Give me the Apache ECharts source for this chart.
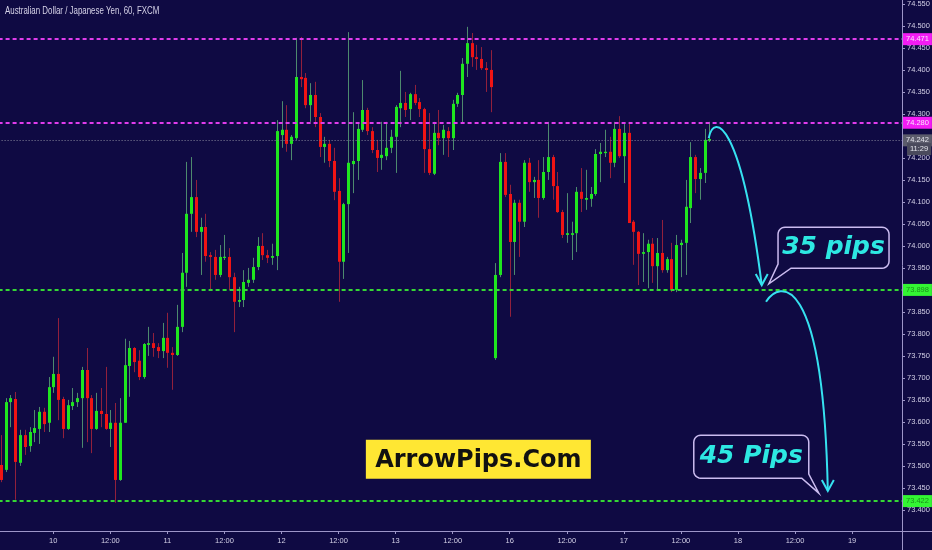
<!DOCTYPE html>
<html><head><meta charset="utf-8">
<script src="https://cdn.jsdelivr.net/npm/echarts@6.0.0/dist/echarts.min.js"></script>
<style>html,body{margin:0;padding:0;background:#0f0a43;}#c{width:932px;height:550px;}</style>
</head><body><div id="c"></div>
<script>
// ---------- data ----------
const chartTitle = 'Australian Dollar / Japanese Yen, 60, FXCM';
const dayNames = ['9', '10', '11', '12', '13', '16', '17', '18', '19'];
const firstHour = 13;          // first candle: day "9", 13:00
const slotCount = 190;         // hourly slots incl. empty future space
const priceTicks = [74.55, 74.50, 74.45, 74.40, 74.35, 74.30, 74.20, 74.15, 74.10, 74.05, 74.00, 73.95,
  73.85, 73.80, 73.75, 73.70, 73.65, 73.60, 73.55, 73.50, 73.45, 73.40];
const resistanceLevels = [74.471, 74.280];
const supportLevels = [73.898, 73.422];
const lastPrice = 74.242;
const countdownText = '11:29';
const countdownPrice = 74.216;
// [open, close, low, high]
const ohlc = [
[73.502,73.468,73.463,73.570],[73.491,73.645,73.486,73.654],[73.645,73.654,73.588,73.661],[73.652,73.509,73.423,73.668],
[73.507,73.570,73.500,73.582],[73.570,73.543,73.525,73.582],[73.545,73.577,73.532,73.588],[73.575,73.586,73.554,73.627],
[73.584,73.623,73.550,73.634],[73.623,73.595,73.577,73.632],[73.598,73.679,73.577,73.702],[73.679,73.709,73.666,73.748],
[73.709,73.650,73.604,73.836],[73.652,73.584,73.563,73.657],[73.584,73.638,73.582,73.650],[73.636,73.645,73.627,73.677],
[73.645,73.654,73.634,73.666],[73.654,73.718,73.541,73.725],[73.718,73.654,73.554,73.768],[73.654,73.584,73.529,73.661],
[73.584,73.625,73.582,73.666],[73.625,73.618,73.588,73.677],[73.618,73.584,73.582,73.725],[73.584,73.598,73.543,73.627],
[73.598,73.468,73.416,73.643],[73.468,73.598,73.466,73.654],[73.598,73.729,73.598,73.789],[73.727,73.768,73.657,73.784],
[73.768,73.736,73.713,73.770],[73.739,73.702,73.695,73.763],[73.702,73.777,73.698,73.779],[73.775,73.779,73.750,73.816],
[73.779,73.768,73.748,73.802],[73.770,73.761,73.745,73.779],[73.761,73.791,73.745,73.825],[73.791,73.757,73.723,73.848],
[73.757,73.752,73.673,73.770],[73.752,73.816,73.750,73.866],[73.816,73.939,73.804,73.984],[73.939,74.073,73.907,74.191],
[74.073,74.111,74.032,74.202],[74.111,74.032,74.020,74.150],[74.032,74.043,73.934,74.064],[74.043,73.977,73.964,74.073],
[73.979,73.975,73.900,73.986],[73.975,73.934,73.923,73.991],[73.934,73.975,73.929,74.002],[73.973,73.975,73.968,74.025],
[73.975,73.929,73.900,73.995],[73.929,73.873,73.804,73.939],[73.873,73.877,73.861,73.907],[73.877,73.918,73.861,73.945],
[73.916,73.923,73.907,73.950],[73.923,73.952,73.916,73.973],[73.952,74.000,73.945,74.020],[74.000,73.979,73.968,74.029],
[73.979,73.973,73.961,73.991],[73.973,73.977,73.957,74.005],[73.977,74.261,73.945,74.286],[74.252,74.264,74.223,74.329],
[74.264,74.232,74.214,74.320],[74.232,74.248,74.195,74.252],[74.245,74.384,74.241,74.473],[74.384,74.379,74.361,74.475],
[74.382,74.320,74.313,74.393],[74.320,74.343,74.282,74.370],[74.343,74.293,74.270,74.373],[74.293,74.225,74.202,74.302],
[74.225,74.232,74.189,74.248],[74.232,74.193,74.179,74.241],[74.193,74.123,74.104,74.223],[74.125,73.964,73.873,74.154],
[73.964,74.095,73.925,74.098],[74.095,74.189,73.984,74.486],[74.186,74.193,74.120,74.304],[74.193,74.266,74.150,74.280],
[74.264,74.309,74.259,74.377],[74.309,74.261,74.252,74.314],[74.261,74.218,74.211,74.270],[74.218,74.200,74.168,74.241],
[74.200,74.207,74.173,74.282],[74.204,74.223,74.195,74.282],[74.223,74.248,74.211,74.264],[74.248,74.316,74.166,74.320],
[74.313,74.325,74.270,74.398],[74.325,74.309,74.293,74.350],[74.311,74.345,74.286,74.348],[74.345,74.325,74.320,74.366],
[74.327,74.311,74.293,74.336],[74.311,74.220,74.166,74.314],[74.220,74.166,74.161,74.302],[74.164,74.257,74.161,74.282],
[74.257,74.245,74.229,74.309],[74.245,74.264,74.207,74.275],[74.261,74.245,74.202,74.270],[74.245,74.323,74.218,74.332],
[74.323,74.343,74.316,74.348],[74.343,74.414,74.280,74.427],[74.414,74.461,74.384,74.498],[74.461,74.429,74.407,74.484],
[74.429,74.425,74.400,74.457],[74.425,74.404,74.400,74.452],[74.404,74.400,74.350,74.418],[74.400,74.361,74.304,74.445],
[73.745,73.934,73.741,73.961],[73.934,74.191,73.929,74.211],[74.191,74.116,74.111,74.211],[74.118,74.009,73.839,74.139],
[74.009,74.098,73.934,74.105],[74.098,74.055,73.975,74.105],[74.055,74.189,74.043,74.195],[74.189,74.145,74.123,74.200],
[74.145,74.150,74.109,74.157],[74.150,74.109,74.064,74.195],[74.109,74.168,74.105,74.202],[74.168,74.202,74.150,74.282],
[74.202,74.136,74.105,74.207],[74.136,74.077,74.075,74.168],[74.077,74.025,74.018,74.082],[74.025,74.029,74.007,74.120],
[74.025,74.029,73.968,74.055],[74.029,74.123,73.986,74.134],[74.123,74.107,74.077,74.177],[74.105,74.109,74.082,74.173],
[74.107,74.118,74.089,74.134],[74.118,74.209,74.114,74.220],[74.209,74.214,74.145,74.234],[74.211,74.214,74.202,74.264],
[74.214,74.189,74.154,74.248],[74.189,74.266,74.179,74.282],[74.266,74.204,74.200,74.295],[74.204,74.257,74.143,74.277],
[74.257,74.052,74.052,74.282],[74.055,74.032,73.957,74.059],[74.032,73.982,73.911,74.034],[73.982,73.986,73.918,74.029],
[73.986,74.005,73.904,74.014],[74.005,73.954,73.916,74.018],[73.954,73.984,73.900,74.018],[73.984,73.945,73.939,74.059],
[73.945,73.970,73.939,73.975],[73.970,73.900,73.895,74.007],[73.900,74.002,73.895,74.025],[74.002,74.007,73.929,74.014],
[74.007,74.089,73.934,74.150],[74.086,74.202,74.052,74.236],[74.202,74.152,74.120,74.207],[74.152,74.166,74.105,74.177],
[74.166,74.241,74.143,74.266],[74.239,74.243,74.236,74.282]
];
// annotation anchors in data space [slot, price]
const arrowOne = [[148.85, 74.245], [149.9, 74.304], [155.6, 74.286], [160.0, 73.911]];
const arrowTwo = [[160.9, 73.873], [163.6, 73.920], [172.9, 73.950], [173.9, 73.443]];
const callout35 = { text: '35 pips', center: [175.1, 73.996], tip: [161.5, 73.914] };
const callout45 = { text: '45 Pips', center: [157.8, 73.521], tip: [172.0, 73.438] };
const brand = { text: 'ArrowPips.Com', center: [100.4, 73.515] };

// ---------- styles ----------
const BG = '#0f0a43', AXIS = '#9d96c8', LBL = '#d2cfe6';
const UP = '#1fe61f', DN = '#f01414', WUP = '#4d8a6e', WDN = '#92203c';
const MAG = '#df3cec', MAGBOX = '#f41cf4', GRN = '#35d835', GRNBOX = '#33f533', CYAN = '#36e2f0';
const SANS = '"Liberation Sans",Arial,sans-serif';

const slotInfo = [];
for (let k = 0; k < slotCount; k++) {
  const t = k + firstHour;
  slotInfo.push({ day: dayNames[Math.floor(t / 24)], hour: t % 24 });
}
const categories = slotInfo.map(s => s.day + ' ' + String(s.hour).padStart(2, '0') + ':00');
const isTick = i => slotInfo[i].hour === 0 || slotInfo[i].hour === 12;

const chart = echarts.init(document.getElementById('c'));

function renderCandle(params, api) {
  const k = api.value(0), o = api.value(1), c = api.value(2), l = api.value(3), h = api.value(4);
  const up = c >= o;
  const pO = api.coord([k, o]), pC = api.coord([k, c]), pL = api.coord([k, l]), pH = api.coord([k, h]);
  const cx = Math.round(pO[0]);
  let top = Math.min(pO[1], pC[1]), bot = Math.max(pO[1], pC[1]);
  if (bot - top < 1.2) { const m = (top + bot) / 2; top = m - 0.6; bot = m + 0.6; }
  return { type: 'group', children: [
    { type: 'line', shape: { x1: cx + 0.5, y1: pH[1], x2: cx + 0.5, y2: pL[1] }, style: { stroke: up ? WUP : WDN, lineWidth: 1 } },
    { type: 'rect', shape: { x: cx - 1, y: top, width: 3, height: bot - top }, style: { fill: up ? UP : DN } }
  ] };
}

function boxLabel(text, bg, fg, dist) {
  return { show: true, position: 'end', distance: dist, formatter: text, backgroundColor: bg, color: fg,
    padding: [2, 3, 2, 3], fontSize: 7.5, lineHeight: 8, fontFamily: SANS };
}

const levelLines = [];
resistanceLevels.forEach(v => levelLines.push({ yAxis: v, lineStyle: { color: MAG, type: [4, 3], width: 2 }, label: boxLabel(v.toFixed(3), MAGBOX, '#fbe4fb', 1) }));
supportLevels.forEach(v => levelLines.push({ yAxis: v, lineStyle: { color: GRN, type: [4, 3], width: 2 }, label: boxLabel(v.toFixed(3), GRNBOX, '#1b8f1b', 1) }));
levelLines.push({ yAxis: lastPrice, lineStyle: { color: '#85859a', type: [1, 2], width: 1 }, label: boxLabel(lastPrice.toFixed(3), '#5c5c6c', '#e6e6ee', 1) });
levelLines.push({ yAxis: countdownPrice, lineStyle: { color: 'rgba(0,0,0,0)', width: 0.1 }, label: boxLabel(countdownText, '#4a4a5c', '#e6e6ee', 5) });

chart.setOption({
  animation: false,
  backgroundColor: BG,
  grid: { left: -1.4, right: 30, top: 0, bottom: 19, containLabel: false, outerBoundsMode: 'none' },
  xAxis: {
    type: 'category', data: categories, boundaryGap: true,
    axisLine: { lineStyle: { color: AXIS, width: 1 } },
    axisTick: { show: true, interval: i => isTick(i), alignWithLabel: true, length: 3, lineStyle: { color: AXIS } },
    axisLabel: { interval: i => isTick(i), formatter: (v, i) => slotInfo[i].hour === 0 ? slotInfo[i].day : '12:00',
      color: LBL, fontSize: 7.5, fontFamily: SANS, margin: 6 },
    splitLine: { show: false }
  },
  yAxis: {
    type: 'value', position: 'right', min: 73.352, max: 74.559, scale: true,
    axisLine: { show: true, lineStyle: { color: AXIS, width: 1 } },
    axisTick: { show: true, customValues: priceTicks, length: 3, lineStyle: { color: AXIS } },
    axisLabel: { customValues: priceTicks, formatter: v => v.toFixed(3), color: LBL, fontSize: 7.5, fontFamily: SANS, margin: 5 },
    splitLine: { show: false }
  },
  series: [
    { type: 'custom', name: 'AUDJPY', renderItem: renderCandle, data: ohlc.map((d, i) => [i, d[0], d[1], d[2], d[3]]),
      encode: { x: 0, y: [1, 2, 3, 4] }, clip: false, z: 3 },
    { type: 'line', name: 'levels', data: [], z: 2, markLine: { symbol: 'none', silent: true, animation: false, data: levelLines } }
  ]
});

function toPx(pt) {
  const k0 = Math.floor(pt[0]), f = pt[0] - k0;
  const a = chart.convertToPixel({ gridIndex: 0 }, [k0, pt[1]]);
  const b = chart.convertToPixel({ gridIndex: 0 }, [k0 + 1, pt[1]]);
  return [a[0] + (b[0] - a[0]) * f, a[1]];
}
function curve(pts) {
  const p = pts.map(toPx);
  return { type: 'bezierCurve', shape: { x1: p[0][0], y1: p[0][1], cpx1: p[1][0], cpy1: p[1][1], cpx2: p[2][0], cpy2: p[2][1], x2: p[3][0], y2: p[3][1] },
    style: { stroke: CYAN, lineWidth: 2, fill: null }, z: 10 };
}
function head(pt) {
  const t = toPx(pt);
  return { type: 'polyline', shape: { points: [[t[0] - 6, t[1] - 11], [t[0], t[1]], [t[0] + 6, t[1] - 11]] }, style: { stroke: CYAN, lineWidth: 2, fill: null }, z: 10 };
}
function calloutPts(x0, y0, x1, y1, r, tip, side) {
  const pts = [];
  const arc = (cx, cy, a0, a1) => { for (let i = 0; i <= 6; i++) { const a = a0 + (a1 - a0) * i / 6; pts.push([cx + r * Math.cos(a), cy + r * Math.sin(a)]); } };
  arc(x0 + r, y0 + r, Math.PI, 1.5 * Math.PI);
  arc(x1 - r, y0 + r, 1.5 * Math.PI, 2 * Math.PI);
  if (side === 'right') {
    pts.push([x1, y1 - 4]); pts.push(tip); pts.push([x1 - 7, y1]);
    arc(x0 + r, y1 - r, 0.5 * Math.PI, Math.PI);
  } else {
    arc(x1 - r, y1 - r, 0, 0.5 * Math.PI);
    pts.push([x0 + 13, y1]); pts.push(tip); pts.push([x0, y1 - 4]);
  }
  return pts;
}
function callout(c, w, h, side) {
  const ctr = toPx(c.center), tip = toPx(c.tip);
  const x0 = ctr[0] - w / 2, y0 = ctr[1] - h / 2;
  return [
    { type: 'polygon', shape: { points: calloutPts(x0, y0, x0 + w, y0 + h, 7, tip, side) }, style: { fill: BG, stroke: '#cbbcf0', lineWidth: 1.5 }, z: 11 },
    { type: 'text', x: ctr[0], y: ctr[1], style: { text: c.text, align: 'center', verticalAlign: 'middle', fill: '#2de8e2',
      font: 'italic bold 25px "DejaVu Sans", Verdana, sans-serif' }, z: 12 }
  ];
}
const bc = toPx(brand.center);
chart.setOption({ graphic: [
  { type: 'text', x: 5, y: 11, scaleX: 0.79, style: { text: chartTitle, align: 'left', verticalAlign: 'middle', fill: '#d6d3e8',
    font: '10px "Liberation Sans", Arial, sans-serif' }, z: 12 },
  curve(arrowOne), head(arrowOne[3]), curve(arrowTwo), head(arrowTwo[3]),
  ...callout(callout35, 111, 41, 'left'),
  ...callout(callout45, 115, 43, 'right'),
  { type: 'rect', shape: { x: bc[0] - 112.5, y: bc[1] - 19.5, width: 225, height: 39 }, style: { fill: '#ffe733' }, z: 11 },
  { type: 'text', x: bc[0], y: bc[1] + 1, style: { text: brand.text, align: 'center', verticalAlign: 'middle', fill: '#111111',
    font: 'bold 24px "DejaVu Sans", Verdana, sans-serif' }, z: 12 },
  { type: 'line', shape: { x1: 902.5, y1: 531, x2: 902.5, y2: 550 }, style: { stroke: AXIS, lineWidth: 1 }, z: 5 },
  { type: 'line', shape: { x1: 902, y1: 531.5, x2: 932, y2: 531.5 }, style: { stroke: AXIS, lineWidth: 1 }, z: 5 }
] });
</script></body></html>
